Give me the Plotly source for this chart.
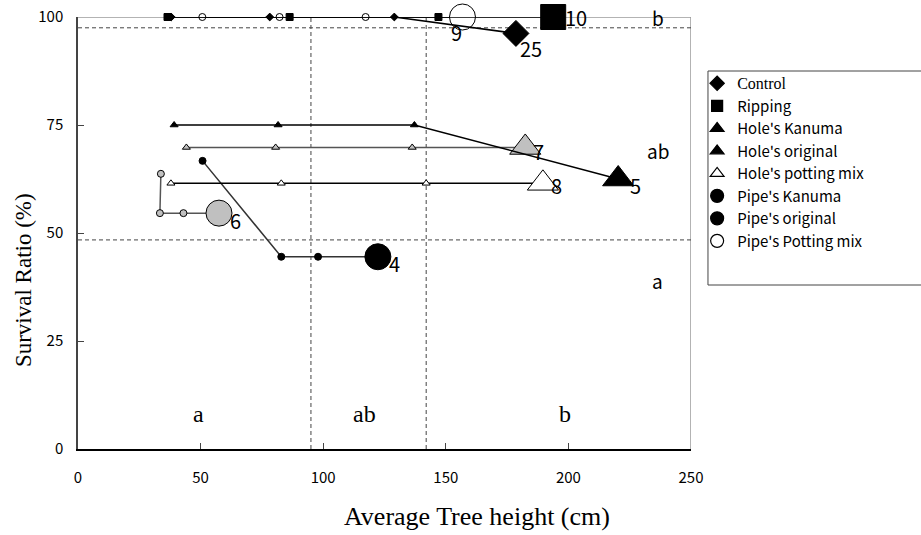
import plotly.graph_objects as go

# ---------------- data ----------------
series_names = ["Control", "Ripping", "Hole's Kanuma", "Hole's original",
                "Hole's potting mix", "Pipe's Kanuma", "Pipe's original", "Pipe's Potting mix"]

control_x = [38.0, 78.2, 129.0, 178.6]
control_y = [100, 100, 100, 96.2]
ripping_x = [36.5, 86.3, 147.0, 193.8]
ripping_y = [100, 100, 100, 100]
hole_kanuma_x = [39.2, 81.6, 137.2, 220.3]
hole_kanuma_y = [75, 75, 75, 62.5]
hole_original_x = [44.2, 80.6, 136.3, 182.4]
hole_original_y = [69.8, 69.8, 69.8, 69.8]
hole_potting_x = [37.9, 82.9, 142.0, 189.6]
hole_potting_y = [61.5, 61.5, 61.5, 61.5]
pipe_kanuma_x = [50.8, 82.9, 97.9, 122.3]
pipe_kanuma_y = [66.7, 44.5, 44.5, 44.5]
pipe_original_x = [33.8, 33.4, 43.0, 57.5]
pipe_original_y = [63.7, 54.6, 54.6, 54.6]
pipe_potting_x = [50.7, 82.2, 117.3, 156.8]
pipe_potting_y = [100, 100, 100, 100]

end_labels = ["25", "10", "5", "7", "8", "4", "6", "9"]

x_ticks = [0, 50, 100, 150, 200, 250]
y_ticks = [0, 25, 50, 75, 100]

x_title = "Average Tree height (cm)"
y_title = "Survival Ratio (%)"

# group boundaries (dashed lines)
height_bounds = [95.0, 142.0]
survival_bounds = [97.5, 48.4]
height_groups = ["a", "ab", "b"]
height_group_x = [49, 117, 198.5]
survival_groups = ["b", "ab", "a"]
survival_group_y = [100, 69.2, 38.9]

# ---------------- style ----------------
SANS = "Noto Sans CJK JP"
SERIF = "Liberation Serif"

xs = [control_x, ripping_x, hole_kanuma_x, hole_original_x, hole_potting_x,
      pipe_kanuma_x, pipe_original_x, pipe_potting_x]
ys = [control_y, ripping_y, hole_kanuma_y, hole_original_y, hole_potting_y,
      pipe_kanuma_y, pipe_original_y, pipe_potting_y]
symbols = ["diamond", "square", "triangle-up", "triangle-up", "triangle-up",
           "circle", "circle", "circle"]
fills = ["#000000", "#000000", "#000000", "#c0c0c0", "#ffffff", "#000000", "#c0c0c0", "#ffffff"]
line_cols = ["#000000", "#000000", "#000000", "#555555", "#000000", "#333333", "#555555", "#000000"]
small_sz = {"diamond": 6, "square": 7, "triangle-up": 7, "circle": 7}
big_sz = {"diamond": 20, "square": 25, "triangle-up": 27, "circle": 26}
legend_fill = ["#000000", "#000000", "#000000", "#000000", "#ffffff", "#000000", "#000000", "#ffffff"]
legend_sz = {"diamond": 11, "square": 11, "triangle-up": 12, "circle": 13}
label_shift = [(15, -15), (23, 0), (17, -6), (13, -4), (14, -2), (17, -7), (17, -7), (-6, -15)]

fig = go.Figure()

# dashed group boundary lines
for yb in survival_bounds:
    fig.add_trace(go.Scatter(x=[0, 250], y=[yb, yb], mode="lines", showlegend=False,
                             hoverinfo="skip",
                             line=dict(color="#444444", width=1, dash="4px,3px")))
for xb in height_bounds:
    fig.add_trace(go.Scatter(x=[xb, xb], y=[0, 100], mode="lines", showlegend=False,
                             hoverinfo="skip",
                             line=dict(color="#444444", width=1, dash="4px,3px")))

# draw order: lower rows first, top row last
order = [6, 5, 4, 3, 2, 7, 0, 1]
for i in order:
    n = len(xs[i])
    sizes = [small_sz[symbols[i]]] * (n - 1) + [big_sz[symbols[i]]]
    fig.add_trace(go.Scatter(
        x=xs[i], y=ys[i], mode="lines+markers", showlegend=False, cliponaxis=False,
        opacity=1,
        line=dict(color=line_cols[i], width=1.5),
        marker=dict(symbol=symbols[i], size=sizes, color=fills[i], opacity=1,
                    line=dict(color="#000000", width=1))))

# legend-only traces
for i, nm in enumerate(series_names):
    name = nm
    if nm == "Control":
        name = '<span style="font-family:Liberation Serif;font-size:16px">Control</span>'
    fig.add_trace(go.Scatter(
        x=[None], y=[None], mode="markers", name=name,
        marker=dict(symbol=symbols[i], size=legend_sz[symbols[i]], color=legend_fill[i],
                    line=dict(color="#000000", width=1.2))))

annotations = []
for i in range(len(series_names)):
    dx, dy = label_shift[i]
    annotations.append(dict(x=xs[i][-1], y=ys[i][-1], xref="x", yref="y", text=end_labels[i],
                            showarrow=False, xanchor="center", yanchor="middle",
                            xshift=dx, yshift=dy, font=dict(family=SANS, size=20, color="black")))
for t, xv in zip(height_groups, height_group_x):
    annotations.append(dict(x=xv, y=8, xref="x", yref="y", text=t, showarrow=False,
                            xanchor="center", yanchor="middle",
                            font=dict(family=SERIF, size=24, color="black")))
for t, yv in zip(survival_groups, survival_group_y):
    annotations.append(dict(x=236.5, y=yv, xref="x", yref="y", text=t, showarrow=False,
                            xanchor="center", yanchor="middle",
                            font=dict(family=SANS, size=19, color="black")))
# axis titles (placed off-centre as in the original)
annotations.append(dict(x=0.651, y=-0.157, xref="paper", yref="paper", text=x_title,
                        showarrow=False, xanchor="center", yanchor="middle",
                        font=dict(family=SERIF, size=26, color="black")))
annotations.append(dict(x=-0.0897, y=0.391, xref="paper", yref="paper", text=y_title,
                        showarrow=False, xanchor="center", yanchor="middle", textangle=-90,
                        font=dict(family=SERIF, size=23, color="black")))

shapes = [
    # top and right frame (gray)
    dict(type="line", xref="x", yref="y", x0=0, x1=250, y0=100, y1=100,
         line=dict(color="#9a9a9a", width=1.5), layer="below"),
    dict(type="line", xref="x", yref="y", x0=250, x1=250, y0=0, y1=100,
         line=dict(color="#9a9a9a", width=1.5), layer="below"),
    # legend box
    dict(type="rect", xref="paper", yref="paper", x0=1.0277, x1=1.40, y0=0.3796, y1=0.875,
         line=dict(color="#444444", width=1), fillcolor="rgba(0,0,0,0)"),
]

fig.update_layout(
    width=921, height=535,
    margin=dict(l=78, r=230, t=17, b=86, autoexpand=False),
    plot_bgcolor="white", paper_bgcolor="white",
    font=dict(family=SANS, size=15, color="black"),
    showlegend=True,
    legend=dict(x=1.010, y=0.884, xanchor="left", yanchor="top",
                bgcolor="rgba(0,0,0,0)", borderwidth=0,
                font=dict(family=SANS, size=15, color="black"),
                tracegroupgap=0, itemsizing="trace"),
    annotations=annotations,
    shapes=shapes,
    xaxis=dict(range=[0, 250], tickvals=x_ticks, ticktext=[str(v) for v in x_ticks],
               automargin=False, ticklabeloverflow="allow",
               showgrid=False, zeroline=False, showline=True, linecolor="black", linewidth=1.5,
               ticks="inside", ticklen=6, tickcolor="#444444", ticklabelstandoff=14,
               tickfont=dict(family=SANS, size=15)),
    yaxis=dict(range=[0, 100], tickvals=y_ticks, ticktext=[str(v) for v in y_ticks],
               automargin=False, ticklabeloverflow="allow",
               showgrid=False, zeroline=False, showline=True, linecolor="#444444", linewidth=1.5,
               ticks="inside", ticklen=6, tickcolor="#444444", ticklabelstandoff=10,
               tickfont=dict(family=SANS, size=15)),
)

fig.write_html(
    "out.html",
    config={"displayModeBar": False},
    post_script="document.body.style.margin='0';document.body.style.padding='0';"
                "document.documentElement.style.overflow='hidden';",
)
